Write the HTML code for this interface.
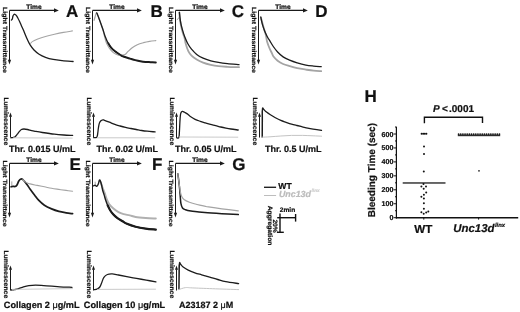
<!DOCTYPE html>
<html><head><meta charset="utf-8"><style>
html,body{margin:0;padding:0;background:#fff;width:520px;height:312px;overflow:hidden}
svg{display:block;font-family:"Liberation Sans",sans-serif;will-change:transform;text-rendering:geometricPrecision}
</style></head><body>
<svg width="520" height="312" viewBox="0 0 520 312">
<rect width="520" height="312" fill="#fff"/>
<line x1="9.50" y1="10.40" x2="54.50" y2="10.40" stroke="#1a1a1a" stroke-width="1.10"/>
<path d="M58.80 10.40 L54.00 8.30 L54.00 12.50 Z" fill="#1a1a1a"/>
<line x1="9.50" y1="10.50" x2="9.50" y2="60.30" stroke="#1a1a1a" stroke-width="1.00"/>
<path d="M9.50 64.40 L7.90 59.80 L11.10 59.80 Z" fill="#1a1a1a"/>
<text x="26.30" y="8.90" font-size="6.60" font-weight="bold" text-anchor="start" fill="#111" stroke="#111" stroke-width="0.22"  >Time</text>
<text x="65.90" y="16.70" font-size="17.00" font-weight="bold" text-anchor="start" fill="#111" stroke="#111" stroke-width="0.22"  >A</text>
<text transform="translate(3.40 7.00) rotate(90) scale(1.000 0.880)" x="0" y="0" font-size="6.90" font-weight="bold" fill="#111" stroke="#111" stroke-width="0.22" textLength="66.00" lengthAdjust="spacingAndGlyphs">Light Transmittance</text>
<line x1="10.50" y1="137.50" x2="10.50" y2="116.30" stroke="#1a1a1a" stroke-width="1.00"/>
<path d="M10.50 112.60 L9.00 116.80 L12.00 116.80 Z" fill="#1a1a1a"/>
<text transform="translate(3.50 97.40) rotate(90) scale(1.000 0.950)" x="0" y="0" font-size="6.90" font-weight="bold" fill="#111" stroke="#111" stroke-width="0.22" >Luminescence</text>
<line x1="92.50" y1="10.40" x2="137.50" y2="10.40" stroke="#1a1a1a" stroke-width="1.10"/>
<path d="M141.80 10.40 L137.00 8.30 L137.00 12.50 Z" fill="#1a1a1a"/>
<line x1="92.50" y1="10.50" x2="92.50" y2="60.30" stroke="#1a1a1a" stroke-width="1.00"/>
<path d="M92.50 64.40 L90.90 59.80 L94.10 59.80 Z" fill="#1a1a1a"/>
<text x="109.30" y="8.90" font-size="6.60" font-weight="bold" text-anchor="start" fill="#111" stroke="#111" stroke-width="0.22"  >Time</text>
<text x="150.50" y="16.70" font-size="17.00" font-weight="bold" text-anchor="start" fill="#111" stroke="#111" stroke-width="0.22"  >B</text>
<text transform="translate(86.40 7.00) rotate(90) scale(1.000 0.880)" x="0" y="0" font-size="6.90" font-weight="bold" fill="#111" stroke="#111" stroke-width="0.22" textLength="66.00" lengthAdjust="spacingAndGlyphs">Light Transmittance</text>
<line x1="93.50" y1="137.50" x2="93.50" y2="116.30" stroke="#1a1a1a" stroke-width="1.00"/>
<path d="M93.50 112.60 L92.00 116.80 L95.00 116.80 Z" fill="#1a1a1a"/>
<text transform="translate(86.50 97.40) rotate(90) scale(1.000 0.950)" x="0" y="0" font-size="6.90" font-weight="bold" fill="#111" stroke="#111" stroke-width="0.22" >Luminescence</text>
<line x1="175.50" y1="10.40" x2="220.50" y2="10.40" stroke="#1a1a1a" stroke-width="1.10"/>
<path d="M224.80 10.40 L220.00 8.30 L220.00 12.50 Z" fill="#1a1a1a"/>
<line x1="175.50" y1="10.50" x2="175.50" y2="60.30" stroke="#1a1a1a" stroke-width="1.00"/>
<path d="M175.50 64.40 L173.90 59.80 L177.10 59.80 Z" fill="#1a1a1a"/>
<text x="192.30" y="8.90" font-size="6.60" font-weight="bold" text-anchor="start" fill="#111" stroke="#111" stroke-width="0.22"  >Time</text>
<text x="231.80" y="16.70" font-size="17.00" font-weight="bold" text-anchor="start" fill="#111" stroke="#111" stroke-width="0.22"  >C</text>
<text transform="translate(169.40 7.00) rotate(90) scale(1.000 0.880)" x="0" y="0" font-size="6.90" font-weight="bold" fill="#111" stroke="#111" stroke-width="0.22" textLength="66.00" lengthAdjust="spacingAndGlyphs">Light Transmittance</text>
<line x1="176.50" y1="137.50" x2="176.50" y2="116.30" stroke="#1a1a1a" stroke-width="1.00"/>
<path d="M176.50 112.60 L175.00 116.80 L178.00 116.80 Z" fill="#1a1a1a"/>
<text transform="translate(169.50 97.40) rotate(90) scale(1.000 0.950)" x="0" y="0" font-size="6.90" font-weight="bold" fill="#111" stroke="#111" stroke-width="0.22" >Luminescence</text>
<line x1="258.50" y1="10.40" x2="303.50" y2="10.40" stroke="#1a1a1a" stroke-width="1.10"/>
<path d="M307.80 10.40 L303.00 8.30 L303.00 12.50 Z" fill="#1a1a1a"/>
<line x1="258.50" y1="10.50" x2="258.50" y2="60.30" stroke="#1a1a1a" stroke-width="1.00"/>
<path d="M258.50 64.40 L256.90 59.80 L260.10 59.80 Z" fill="#1a1a1a"/>
<text x="275.30" y="8.90" font-size="6.60" font-weight="bold" text-anchor="start" fill="#111" stroke="#111" stroke-width="0.22"  >Time</text>
<text x="315.20" y="16.70" font-size="17.00" font-weight="bold" text-anchor="start" fill="#111" stroke="#111" stroke-width="0.22"  >D</text>
<text transform="translate(252.40 7.00) rotate(90) scale(1.000 0.880)" x="0" y="0" font-size="6.90" font-weight="bold" fill="#111" stroke="#111" stroke-width="0.22" textLength="66.00" lengthAdjust="spacingAndGlyphs">Light Transmittance</text>
<line x1="259.50" y1="137.50" x2="259.50" y2="116.30" stroke="#1a1a1a" stroke-width="1.00"/>
<path d="M259.50 112.60 L258.00 116.80 L261.00 116.80 Z" fill="#1a1a1a"/>
<text transform="translate(252.50 97.40) rotate(90) scale(1.000 0.950)" x="0" y="0" font-size="6.90" font-weight="bold" fill="#111" stroke="#111" stroke-width="0.22" >Luminescence</text>
<line x1="9.50" y1="163.40" x2="54.50" y2="163.40" stroke="#1a1a1a" stroke-width="1.10"/>
<path d="M58.80 163.40 L54.00 161.30 L54.00 165.50 Z" fill="#1a1a1a"/>
<line x1="9.50" y1="163.50" x2="9.50" y2="213.30" stroke="#1a1a1a" stroke-width="1.00"/>
<path d="M9.50 217.40 L7.90 212.80 L11.10 212.80 Z" fill="#1a1a1a"/>
<text x="26.30" y="161.90" font-size="6.60" font-weight="bold" text-anchor="start" fill="#111" stroke="#111" stroke-width="0.22"  >Time</text>
<text x="69.60" y="170.00" font-size="17.00" font-weight="bold" text-anchor="start" fill="#111" stroke="#111" stroke-width="0.22"  >E</text>
<text transform="translate(3.40 160.60) rotate(90) scale(1.000 0.880)" x="0" y="0" font-size="6.90" font-weight="bold" fill="#111" stroke="#111" stroke-width="0.22" textLength="66.00" lengthAdjust="spacingAndGlyphs">Light Transmittance</text>
<line x1="10.50" y1="290.50" x2="10.50" y2="269.30" stroke="#1a1a1a" stroke-width="1.00"/>
<path d="M10.50 265.60 L9.00 269.80 L12.00 269.80 Z" fill="#1a1a1a"/>
<text transform="translate(3.50 250.40) rotate(90) scale(1.000 0.950)" x="0" y="0" font-size="6.90" font-weight="bold" fill="#111" stroke="#111" stroke-width="0.22" >Luminescence</text>
<line x1="92.50" y1="163.40" x2="137.50" y2="163.40" stroke="#1a1a1a" stroke-width="1.10"/>
<path d="M141.80 163.40 L137.00 161.30 L137.00 165.50 Z" fill="#1a1a1a"/>
<line x1="92.50" y1="163.50" x2="92.50" y2="213.30" stroke="#1a1a1a" stroke-width="1.00"/>
<path d="M92.50 217.40 L90.90 212.80 L94.10 212.80 Z" fill="#1a1a1a"/>
<text x="109.30" y="161.90" font-size="6.60" font-weight="bold" text-anchor="start" fill="#111" stroke="#111" stroke-width="0.22"  >Time</text>
<text x="152.00" y="170.00" font-size="17.00" font-weight="bold" text-anchor="start" fill="#111" stroke="#111" stroke-width="0.22"  >F</text>
<text transform="translate(86.40 160.60) rotate(90) scale(1.000 0.880)" x="0" y="0" font-size="6.90" font-weight="bold" fill="#111" stroke="#111" stroke-width="0.22" textLength="66.00" lengthAdjust="spacingAndGlyphs">Light Transmittance</text>
<line x1="93.50" y1="290.50" x2="93.50" y2="269.30" stroke="#1a1a1a" stroke-width="1.00"/>
<path d="M93.50 265.60 L92.00 269.80 L95.00 269.80 Z" fill="#1a1a1a"/>
<text transform="translate(86.50 250.40) rotate(90) scale(1.000 0.950)" x="0" y="0" font-size="6.90" font-weight="bold" fill="#111" stroke="#111" stroke-width="0.22" >Luminescence</text>
<line x1="175.50" y1="163.40" x2="220.50" y2="163.40" stroke="#1a1a1a" stroke-width="1.10"/>
<path d="M224.80 163.40 L220.00 161.30 L220.00 165.50 Z" fill="#1a1a1a"/>
<line x1="175.50" y1="163.50" x2="175.50" y2="213.30" stroke="#1a1a1a" stroke-width="1.00"/>
<path d="M175.50 217.40 L173.90 212.80 L177.10 212.80 Z" fill="#1a1a1a"/>
<text x="192.30" y="161.90" font-size="6.60" font-weight="bold" text-anchor="start" fill="#111" stroke="#111" stroke-width="0.22"  >Time</text>
<text x="232.30" y="170.00" font-size="17.00" font-weight="bold" text-anchor="start" fill="#111" stroke="#111" stroke-width="0.22"  >G</text>
<text transform="translate(169.40 160.60) rotate(90) scale(1.000 0.880)" x="0" y="0" font-size="6.90" font-weight="bold" fill="#111" stroke="#111" stroke-width="0.22" textLength="66.00" lengthAdjust="spacingAndGlyphs">Light Transmittance</text>
<line x1="176.50" y1="290.50" x2="176.50" y2="269.30" stroke="#1a1a1a" stroke-width="1.00"/>
<path d="M176.50 265.60 L175.00 269.80 L178.00 269.80 Z" fill="#1a1a1a"/>
<text transform="translate(169.50 250.40) rotate(90) scale(1.000 0.950)" x="0" y="0" font-size="6.90" font-weight="bold" fill="#111" stroke="#111" stroke-width="0.22" >Luminescence</text>
<path d="M11.40 20.10 C11.57 19.87 12.15 19.33 12.40 18.70 C12.65 18.07 12.67 16.98 12.90 16.30 C13.13 15.62 13.48 14.93 13.80 14.60 C14.12 14.27 14.39 14.18 14.80 14.30 C15.21 14.42 15.77 14.73 16.25 15.30 C16.73 15.87 17.14 16.67 17.70 17.70 C18.26 18.73 18.97 20.13 19.60 21.50 C20.23 22.87 20.85 24.45 21.50 25.90 C22.15 27.35 22.85 28.68 23.50 30.20 C24.15 31.72 24.72 33.37 25.40 35.00 C26.08 36.63 26.82 38.35 27.60 40.00 C28.38 41.65 29.03 43.23 30.10 44.90 C31.17 46.57 32.50 48.45 34.00 50.00 C35.50 51.55 37.18 52.98 39.10 54.20 C41.02 55.42 43.15 56.43 45.50 57.30 C47.85 58.17 50.42 58.85 53.20 59.40 C55.98 59.95 58.88 60.25 62.20 60.60 C65.52 60.95 71.28 61.35 73.10 61.50" fill="none" stroke="#1c1c1c" stroke-width="1.30" stroke-linejoin="round" stroke-linecap="round"/>
<path d="M30.60 43.40 C30.95 43.07 31.50 42.13 32.70 41.40 C33.90 40.67 35.67 39.82 37.80 39.00 C39.93 38.18 42.72 37.28 45.50 36.50 C48.28 35.72 51.50 34.98 54.50 34.30 C57.50 33.62 60.52 32.97 63.50 32.40 C66.48 31.83 70.92 31.15 72.40 30.90" fill="none" stroke="#a4a4a4" stroke-width="1.10" stroke-linejoin="round" stroke-linecap="round"/>
<path d="M11.00 137.80 C11.43 137.72 12.90 137.48 13.60 137.30 C14.30 137.12 14.58 137.22 15.20 136.70 C15.82 136.18 16.62 135.05 17.30 134.20 C17.98 133.35 18.62 132.38 19.30 131.60 C19.98 130.82 20.62 129.93 21.40 129.50 C22.18 129.07 22.98 129.00 24.00 129.00 C25.02 129.00 26.23 129.23 27.50 129.50 C28.77 129.77 30.23 130.28 31.60 130.60 C32.97 130.92 33.92 131.08 35.70 131.40 C37.48 131.72 39.18 132.03 42.30 132.50 C45.42 132.97 50.82 133.78 54.40 134.20 C57.98 134.62 60.77 134.80 63.80 135.00 C66.83 135.20 71.13 135.33 72.60 135.40" fill="none" stroke="#1c1c1c" stroke-width="1.30" stroke-linejoin="round" stroke-linecap="round"/>
<line x1="13.00" y1="137.80" x2="72.60" y2="138.10" stroke="#c4c4c4" stroke-width="0.90"/>
<path d="M108.20 43.30 C108.72 44.07 110.10 46.53 111.30 47.90 C112.50 49.27 113.87 50.30 115.40 51.50 C116.93 52.70 118.90 54.18 120.50 55.10 C122.10 56.02 123.40 56.47 125.00 57.05 C126.60 57.63 128.38 58.09 130.10 58.60 C131.82 59.11 133.58 59.67 135.30 60.10 C137.02 60.53 138.70 60.90 140.40 61.20 C142.10 61.50 143.80 61.73 145.50 61.90 C147.20 62.07 148.88 62.10 150.60 62.20 C152.32 62.30 154.93 62.45 155.80 62.50" fill="none" stroke="#1c1c1c" stroke-width="2.00" stroke-linejoin="round" stroke-linecap="round"/>
<path d="M94.10 20.30 C94.28 19.67 94.77 17.75 95.20 16.50 C95.63 15.25 96.07 12.47 96.70 12.80 C97.33 13.13 98.28 16.63 99.00 18.50 C99.72 20.37 100.32 22.08 101.00 24.00 C101.68 25.92 102.50 27.92 103.10 30.00 C103.70 32.08 104.08 34.45 104.60 36.50 C105.12 38.55 105.43 40.40 106.20 42.30 C106.97 44.20 108.02 46.18 109.20 47.90 C110.38 49.62 111.75 51.40 113.30 52.60 C114.85 53.80 117.05 54.68 118.50 55.10 C119.95 55.52 120.92 55.20 122.00 55.10 C123.08 55.00 123.98 55.12 125.00 54.50 C126.02 53.88 126.90 52.52 128.10 51.40 C129.30 50.28 130.67 48.92 132.20 47.80 C133.73 46.68 135.42 45.55 137.30 44.70 C139.18 43.85 141.45 43.25 143.50 42.70 C145.55 42.15 147.55 41.75 149.60 41.40 C151.65 41.05 154.77 40.73 155.80 40.60" fill="none" stroke="#a4a4a4" stroke-width="1.20" stroke-linejoin="round" stroke-linecap="round"/>
<path d="M96.80 12.90 C97.17 13.83 98.30 16.65 99.00 18.50 C99.70 20.35 100.32 22.08 101.00 24.00 C101.68 25.92 102.42 27.97 103.10 30.00 C103.78 32.03 104.25 33.98 105.10 36.20 C105.95 38.42 107.17 41.35 108.20 43.30 C109.23 45.25 110.10 46.53 111.30 47.90 C112.50 49.27 113.87 50.30 115.40 51.50 C116.93 52.70 118.90 54.18 120.50 55.10 C122.10 56.02 124.25 56.72 125.00 57.05" fill="none" stroke="#1c1c1c" stroke-width="1.30" stroke-linejoin="round" stroke-linecap="round"/>
<path d="M93.70 137.60 C94.17 137.58 95.88 137.85 96.50 137.50 C97.12 137.15 97.17 136.42 97.40 135.50 C97.63 134.58 97.73 133.25 97.90 132.00 C98.07 130.75 98.17 129.43 98.40 128.00 C98.63 126.57 98.88 124.60 99.30 123.40 C99.72 122.20 100.30 121.40 100.90 120.80 C101.50 120.20 102.38 119.92 102.90 119.80 C103.42 119.68 102.92 119.70 104.00 120.10 C105.08 120.50 107.60 121.48 109.40 122.20 C111.20 122.92 113.02 123.77 114.80 124.40 C116.58 125.03 118.32 125.50 120.10 126.00 C121.88 126.50 123.70 126.98 125.50 127.40 C127.30 127.82 129.10 128.15 130.90 128.50 C132.70 128.85 134.50 129.17 136.30 129.50 C138.10 129.83 139.90 130.22 141.70 130.50 C143.50 130.78 144.87 130.97 147.10 131.20 C149.33 131.43 153.77 131.78 155.10 131.90" fill="none" stroke="#1c1c1c" stroke-width="1.30" stroke-linejoin="round" stroke-linecap="round"/>
<line x1="97.00" y1="137.80" x2="155.20" y2="137.80" stroke="#c4c4c4" stroke-width="0.90"/>
<path d="M177.20 19.50 C177.33 19.42 177.70 19.33 178.00 19.00 C178.30 18.67 178.83 17.75 179.00 17.50" fill="none" stroke="#a4a4a4" stroke-width="1.00" stroke-linejoin="round" stroke-linecap="round"/>
<path d="M179.40 12.50 C179.47 13.47 179.52 16.05 179.80 18.30 C180.08 20.55 180.57 23.45 181.10 26.00 C181.63 28.55 182.43 31.65 183.00 33.60 C183.57 35.55 184.03 35.95 184.50 37.70 C184.97 39.45 185.17 41.85 185.80 44.10 C186.43 46.35 187.35 49.28 188.30 51.20 C189.25 53.12 190.10 54.22 191.50 55.60 C192.90 56.98 194.77 58.32 196.70 59.50 C198.63 60.68 200.75 61.80 203.10 62.70 C205.45 63.60 208.23 64.32 210.80 64.90 C213.37 65.48 215.73 65.88 218.50 66.20 C221.27 66.52 223.98 66.63 227.40 66.80 C230.82 66.97 237.07 67.13 239.00 67.20" fill="none" stroke="#a4a4a4" stroke-width="1.80" stroke-linejoin="round" stroke-linecap="round"/>
<path d="M179.40 12.50 C179.57 13.88 180.02 18.35 180.40 20.80 C180.78 23.25 181.17 25.07 181.70 27.20 C182.23 29.33 183.03 31.85 183.60 33.60 C184.17 35.35 184.42 36.05 185.10 37.70 C185.78 39.35 186.63 41.58 187.70 43.50 C188.77 45.42 190.00 47.38 191.50 49.20 C193.00 51.02 194.77 52.90 196.70 54.40 C198.63 55.90 200.75 57.13 203.10 58.20 C205.45 59.27 208.23 60.10 210.80 60.80 C213.37 61.50 215.73 61.93 218.50 62.40 C221.27 62.87 223.98 63.23 227.40 63.60 C230.82 63.97 237.07 64.43 239.00 64.60" fill="none" stroke="#1c1c1c" stroke-width="1.30" stroke-linejoin="round" stroke-linecap="round"/>
<path d="M176.60 137.70 C176.97 137.70 178.33 138.65 178.80 137.70 C179.27 136.75 179.22 134.62 179.40 132.00 C179.58 129.38 179.72 124.92 179.90 122.00 C180.08 119.08 180.23 116.20 180.50 114.50 C180.77 112.80 181.13 112.33 181.50 111.80 C181.87 111.27 182.20 111.22 182.70 111.30 C183.20 111.38 183.73 111.87 184.50 112.30 C185.27 112.73 186.38 113.25 187.30 113.90 C188.22 114.55 188.70 115.30 190.00 116.20 C191.30 117.10 193.38 118.45 195.10 119.30 C196.82 120.15 198.58 120.70 200.30 121.30 C202.02 121.90 203.70 122.38 205.40 122.90 C207.10 123.42 208.80 123.95 210.50 124.40 C212.20 124.85 213.88 125.17 215.60 125.60 C217.32 126.03 219.08 126.58 220.80 127.00 C222.52 127.42 224.20 127.77 225.90 128.10 C227.60 128.43 228.95 128.68 231.00 129.00 C233.05 129.32 237.00 129.83 238.20 130.00" fill="none" stroke="#1c1c1c" stroke-width="1.30" stroke-linejoin="round" stroke-linecap="round"/>
<line x1="179.00" y1="137.00" x2="238.20" y2="137.20" stroke="#c4c4c4" stroke-width="0.90"/>
<path d="M260.80 17.20 C260.97 17.83 261.40 19.53 261.80 21.00 C262.20 22.47 262.75 24.42 263.20 26.00 C263.65 27.58 264.10 29.17 264.50 30.50 C264.90 31.83 265.28 32.75 265.60 34.00 C265.92 35.25 266.13 36.67 266.40 38.00 C266.67 39.33 266.67 40.25 267.20 42.00 C267.73 43.75 268.80 46.62 269.60 48.50 C270.40 50.38 271.38 52.00 272.00 53.30 C272.62 54.60 272.37 55.07 273.30 56.30 C274.23 57.53 275.97 59.42 277.60 60.70 C279.23 61.98 281.10 63.10 283.10 64.00 C285.10 64.90 287.25 65.42 289.60 66.10 C291.95 66.78 294.48 67.52 297.20 68.10 C299.92 68.68 303.17 69.17 305.90 69.60 C308.63 70.03 311.05 70.43 313.60 70.70 C316.15 70.97 319.93 71.12 321.20 71.20" fill="none" stroke="#a4a4a4" stroke-width="1.80" stroke-linejoin="round" stroke-linecap="round"/>
<path d="M260.80 17.20 C261.07 18.40 261.87 22.40 262.40 24.40 C262.93 26.40 263.47 27.73 264.00 29.20 C264.53 30.67 264.93 31.73 265.60 33.20 C266.27 34.67 267.27 36.68 268.00 38.00 C268.73 39.32 269.12 39.68 270.00 41.10 C270.88 42.52 272.03 44.68 273.30 46.50 C274.57 48.32 275.97 50.27 277.60 52.00 C279.23 53.73 281.10 55.53 283.10 56.90 C285.10 58.27 287.25 59.20 289.60 60.20 C291.95 61.20 294.48 62.08 297.20 62.90 C299.92 63.72 303.17 64.57 305.90 65.10 C308.63 65.63 311.05 65.83 313.60 66.10 C316.15 66.37 319.93 66.60 321.20 66.70" fill="none" stroke="#1c1c1c" stroke-width="1.30" stroke-linejoin="round" stroke-linecap="round"/>
<line x1="261.90" y1="137.50" x2="261.90" y2="110.50" stroke="#a4a4a4" stroke-width="1.00"/>
<path d="M262.30 137.20 C262.32 134.33 262.37 124.77 262.40 120.00 C262.43 115.23 262.23 110.30 262.50 108.60 C262.77 106.90 263.33 109.22 264.00 109.80 C264.67 110.38 265.50 111.32 266.50 112.10 C267.50 112.88 268.52 113.57 270.00 114.50 C271.48 115.43 273.60 116.72 275.40 117.70 C277.20 118.68 279.02 119.63 280.80 120.40 C282.58 121.17 284.32 121.68 286.10 122.30 C287.88 122.92 289.70 123.57 291.50 124.10 C293.30 124.63 295.10 125.05 296.90 125.50 C298.70 125.95 300.50 126.37 302.30 126.80 C304.10 127.23 305.90 127.72 307.70 128.10 C309.50 128.48 310.80 128.72 313.10 129.10 C315.40 129.48 320.10 130.18 321.50 130.40" fill="none" stroke="#1c1c1c" stroke-width="1.30" stroke-linejoin="round" stroke-linecap="round"/>
<path d="M262.00 137.20 C263.33 137.13 266.87 137.00 270.00 136.80 C273.13 136.60 277.22 136.23 280.80 136.00 C284.38 135.77 287.92 135.50 291.50 135.40 C295.08 135.30 298.70 135.33 302.30 135.40 C305.90 135.47 309.90 135.67 313.10 135.80 C316.30 135.93 320.10 136.13 321.50 136.20" fill="none" stroke="#c4c4c4" stroke-width="1.00" stroke-linejoin="round" stroke-linecap="round"/>
<line x1="11.80" y1="181.40" x2="11.80" y2="186.80" stroke="#a4a4a4" stroke-width="1.00"/>
<path d="M11.10 186.80 C11.40 186.72 12.22 186.35 12.90 186.30 C13.58 186.25 14.52 186.72 15.20 186.50 C15.88 186.28 16.40 185.92 17.00 185.00 C17.60 184.08 18.13 182.00 18.80 181.00 C19.47 180.00 20.33 179.23 21.00 179.00 C21.67 178.77 22.13 179.12 22.80 179.60 C23.47 180.08 24.18 180.92 25.00 181.90 C25.82 182.88 26.83 184.28 27.70 185.50 C28.57 186.72 29.07 187.62 30.20 189.20 C31.33 190.78 33.10 193.17 34.50 195.00 C35.90 196.83 36.95 198.48 38.60 200.20 C40.25 201.92 42.23 203.85 44.40 205.30 C46.57 206.75 49.18 207.88 51.60 208.90 C54.02 209.92 56.48 210.75 58.90 211.40 C61.32 212.05 63.82 212.42 66.10 212.80 C68.38 213.18 71.52 213.55 72.60 213.70" fill="none" stroke="#1c1c1c" stroke-width="1.70" stroke-linejoin="round" stroke-linecap="round"/>
<path d="M22.80 179.60 C22.95 179.75 23.03 179.97 23.70 180.50 C24.37 181.03 25.72 182.23 26.80 182.80 C27.88 183.37 28.85 183.53 30.20 183.90 C31.55 184.27 33.73 184.75 34.90 185.00 C36.07 185.25 35.62 185.10 37.20 185.40 C38.78 185.70 42.00 186.32 44.40 186.80 C46.80 187.28 49.18 187.87 51.60 188.30 C54.02 188.73 56.48 189.05 58.90 189.40 C61.32 189.75 63.82 190.10 66.10 190.40 C68.38 190.70 71.52 191.07 72.60 191.20" fill="none" stroke="#a4a4a4" stroke-width="1.10" stroke-linejoin="round" stroke-linecap="round"/>
<path d="M11.20 290.00 C11.75 289.93 13.35 289.78 14.50 289.60 C15.65 289.42 16.60 289.35 18.10 288.90 C19.60 288.45 21.70 287.45 23.50 286.90 C25.30 286.35 26.88 285.90 28.90 285.60 C30.92 285.30 33.13 285.10 35.60 285.10 C38.07 285.10 41.00 285.42 43.70 285.60 C46.40 285.78 49.12 285.98 51.80 286.20 C54.48 286.42 56.43 286.72 59.80 286.90 C63.17 287.08 69.97 287.23 72.00 287.30" fill="none" stroke="#1c1c1c" stroke-width="1.30" stroke-linejoin="round" stroke-linecap="round"/>
<line x1="12.00" y1="289.40" x2="72.90" y2="288.60" stroke="#c4c4c4" stroke-width="0.90"/>
<line x1="95.10" y1="181.70" x2="95.30" y2="184.50" stroke="#a4a4a4" stroke-width="1.00"/>
<path d="M100.80 182.30 C101.05 183.08 101.65 185.20 102.30 187.00 C102.95 188.80 103.97 191.07 104.70 193.10 C105.43 195.13 105.93 197.32 106.70 199.20 C107.47 201.08 108.18 202.85 109.30 204.40 C110.42 205.95 111.87 207.22 113.40 208.50 C114.93 209.78 116.80 211.17 118.50 212.10 C120.20 213.03 121.72 213.55 123.60 214.10 C125.48 214.65 127.80 214.92 129.80 215.40 C131.80 215.88 132.95 216.57 135.60 217.00 C138.25 217.43 142.33 217.75 145.70 218.00 C149.07 218.25 154.12 218.42 155.80 218.50" fill="none" stroke="#b0b0b0" stroke-width="2.00" stroke-linejoin="round" stroke-linecap="round"/>
<path d="M93.60 185.80 C93.85 185.72 94.58 185.20 95.10 185.30 C95.62 185.40 96.18 186.57 96.70 186.40 C97.22 186.23 97.78 185.25 98.20 184.30 C98.62 183.35 98.92 181.42 99.20 180.70 C99.48 179.98 99.63 179.73 99.90 180.00 C100.17 180.27 100.48 181.30 100.80 182.30 C101.12 183.30 101.50 184.72 101.80 186.00 C102.10 187.28 102.20 188.48 102.60 190.00 C103.00 191.52 103.68 193.38 104.20 195.10 C104.72 196.82 105.12 198.58 105.70 200.30 C106.28 202.02 106.93 203.70 107.70 205.40 C108.47 207.10 109.35 208.97 110.30 210.50 C111.25 212.03 112.20 213.32 113.40 214.60 C114.60 215.88 115.97 217.08 117.50 218.20 C119.03 219.32 121.02 220.37 122.60 221.30 C124.18 222.23 124.83 222.90 127.00 223.80 C129.17 224.70 132.48 225.90 135.60 226.70 C138.72 227.50 142.33 228.12 145.70 228.60 C149.07 229.08 154.12 229.43 155.80 229.60" fill="none" stroke="#1c1c1c" stroke-width="1.40" stroke-linejoin="round" stroke-linecap="round"/>
<path d="M107.70 205.40 C108.13 206.25 109.35 208.97 110.30 210.50 C111.25 212.03 112.20 213.32 113.40 214.60 C114.60 215.88 115.97 217.08 117.50 218.20 C119.03 219.32 121.02 220.37 122.60 221.30 C124.18 222.23 124.83 222.90 127.00 223.80 C129.17 224.70 132.48 225.90 135.60 226.70 C138.72 227.50 142.33 228.12 145.70 228.60 C149.07 229.08 154.12 229.43 155.80 229.60" fill="none" stroke="#1c1c1c" stroke-width="2.20" stroke-linejoin="round" stroke-linecap="round"/>
<path d="M94.30 289.70 C94.75 289.60 96.08 289.55 97.00 289.10 C97.92 288.65 98.98 288.15 99.80 287.00 C100.62 285.85 101.22 283.82 101.90 282.20 C102.58 280.58 102.98 278.58 103.90 277.30 C104.82 276.02 106.02 275.07 107.40 274.50 C108.78 273.93 110.35 273.82 112.20 273.90 C114.05 273.98 116.07 274.55 118.50 275.00 C120.93 275.45 123.80 276.03 126.80 276.60 C129.80 277.17 133.27 277.82 136.50 278.40 C139.73 278.98 142.97 279.52 146.20 280.10 C149.43 280.68 154.28 281.60 155.90 281.90" fill="none" stroke="#1c1c1c" stroke-width="1.30" stroke-linejoin="round" stroke-linecap="round"/>
<line x1="97.00" y1="289.40" x2="155.90" y2="289.20" stroke="#c4c4c4" stroke-width="0.90"/>
<path d="M177.80 173.70 C177.88 174.28 178.03 175.07 178.30 177.20 C178.57 179.33 179.08 183.42 179.40 186.50 C179.72 189.58 179.95 192.88 180.20 195.70 C180.45 198.52 180.52 201.35 180.90 203.40 C181.28 205.45 181.73 206.93 182.50 208.00 C183.27 209.07 184.10 209.28 185.50 209.80 C186.90 210.32 188.97 210.77 190.90 211.10 C192.83 211.43 194.78 211.55 197.10 211.80 C199.42 212.05 200.67 212.28 204.80 212.60 C208.93 212.92 216.32 213.37 221.90 213.70 C227.48 214.03 235.57 214.45 238.30 214.60" fill="none" stroke="#1c1c1c" stroke-width="1.50" stroke-linejoin="round" stroke-linecap="round"/>
<path d="M177.80 173.70 C177.93 174.75 178.30 177.87 178.60 180.00 C178.90 182.13 179.33 184.65 179.60 186.50 C179.87 188.35 179.85 189.43 180.20 191.10 C180.55 192.77 181.07 195.10 181.70 196.50 C182.33 197.90 182.72 198.55 184.00 199.50 C185.28 200.45 187.22 201.37 189.40 202.20 C191.58 203.03 194.53 203.83 197.10 204.50 C199.67 205.17 202.90 205.80 204.80 206.20 C206.70 206.60 205.65 206.47 208.50 206.90 C211.35 207.33 216.93 208.15 221.90 208.80 C226.87 209.45 235.57 210.47 238.30 210.80" fill="none" stroke="#a4a4a4" stroke-width="1.20" stroke-linejoin="round" stroke-linecap="round"/>
<line x1="178.60" y1="289.50" x2="178.60" y2="264.50" stroke="#a4a4a4" stroke-width="1.00"/>
<path d="M179.00 289.00 C179.03 286.67 179.12 279.32 179.20 275.00 C179.28 270.68 179.27 264.90 179.50 263.10 C179.73 261.30 180.05 263.60 180.60 264.20 C181.15 264.80 181.53 265.72 182.80 266.70 C184.07 267.68 186.18 269.08 188.20 270.10 C190.22 271.12 192.67 272.02 194.90 272.80 C197.13 273.58 199.13 274.08 201.60 274.80 C204.07 275.52 207.00 276.32 209.70 277.10 C212.40 277.88 215.12 278.75 217.80 279.50 C220.48 280.25 222.33 280.92 225.80 281.60 C229.27 282.28 236.47 283.27 238.60 283.60" fill="none" stroke="#1c1c1c" stroke-width="1.30" stroke-linejoin="round" stroke-linecap="round"/>
<path d="M178.70 289.60 C179.83 289.27 183.25 287.88 185.50 287.60 C187.75 287.32 187.72 287.72 192.20 287.90 C196.68 288.08 204.67 288.42 212.40 288.70 C220.13 288.98 234.23 289.45 238.60 289.60" fill="none" stroke="#c4c4c4" stroke-width="1.00" stroke-linejoin="round" stroke-linecap="round"/>
<text x="8.90" y="152.20" font-size="9.00" font-weight="bold" text-anchor="start" fill="#111" stroke="#111" stroke-width="0.22"  >Thr. 0.015 U/mL</text>
<text x="96.60" y="152.20" font-size="9.00" font-weight="bold" text-anchor="start" fill="#111" stroke="#111" stroke-width="0.22"  >Thr. 0.02 U/mL</text>
<text x="174.90" y="152.20" font-size="9.00" font-weight="bold" text-anchor="start" fill="#111" stroke="#111" stroke-width="0.22"  >Thr. 0.05 U/mL</text>
<text x="264.90" y="152.20" font-size="9.00" font-weight="bold" text-anchor="start" fill="#111" stroke="#111" stroke-width="0.22"  >Thr. 0.5 U/mL</text>
<text x="3.80" y="307.80" font-size="9.15" font-weight="bold" text-anchor="start" fill="#111" stroke="#111" stroke-width="0.22"  >Collagen 2 <tspan font-weight="normal">μ</tspan>g/mL</text>
<text x="83.80" y="307.80" font-size="9.20" font-weight="bold" text-anchor="start" fill="#111" stroke="#111" stroke-width="0.22"  >Collagen 10 <tspan font-weight="normal">μ</tspan>g/mL</text>
<text x="178.90" y="307.80" font-size="9.00" font-weight="bold" text-anchor="start" fill="#111" stroke="#111" stroke-width="0.22"  >A23187 2 <tspan font-weight="normal">μ</tspan>M</text>
<line x1="264.00" y1="187.30" x2="276.10" y2="187.30" stroke="#222" stroke-width="1.40"/>
<text x="278.30" y="189.10" font-size="8.60" font-weight="bold" text-anchor="start" fill="#111" stroke="#111" stroke-width="0.22"  >WT</text>
<line x1="264.00" y1="195.50" x2="276.10" y2="195.50" stroke="#bdbdbd" stroke-width="1.00"/>
<text x="278.90" y="197.30" font-size="8.90" font-weight="bold" text-anchor="start" fill="#bcbcbc" stroke="#bcbcbc" stroke-width="0.22" font-style="italic" >Unc13d</text>
<text x="311.60" y="192.20" font-size="4.60" font-weight="bold" text-anchor="start" fill="#cfcfcf" stroke="#cfcfcf" stroke-width="0.22" font-style="italic" >linx</text>
<text x="279.80" y="212.00" font-size="6.60" font-weight="bold" text-anchor="start" fill="#111" stroke="#111" stroke-width="0.22"  >2min</text>
<line x1="277.20" y1="217.70" x2="295.90" y2="217.70" stroke="#111" stroke-width="1.40"/>
<line x1="295.60" y1="214.00" x2="295.60" y2="221.60" stroke="#111" stroke-width="1.40"/>
<line x1="280.00" y1="213.60" x2="280.00" y2="232.40" stroke="#111" stroke-width="1.40"/>
<line x1="276.90" y1="232.30" x2="283.80" y2="232.30" stroke="#111" stroke-width="1.40"/>
<text transform="translate(273.30 219.40) rotate(90) scale(1.000 0.950)" x="0" y="0" font-size="6.70" font-weight="bold" fill="#111" stroke="#111" stroke-width="0.22" >20%</text>
<text transform="translate(268.40 205.70) rotate(90) scale(1.000 0.950)" x="0" y="0" font-size="6.75" font-weight="bold" fill="#111" stroke="#111" stroke-width="0.22" >Aggregation</text>
<text x="364.60" y="101.80" font-size="17.00" font-weight="bold" text-anchor="start" fill="#111" stroke="#111" stroke-width="0.22"  >H</text>
<text x="433.00" y="111.90" font-size="10.00" font-weight="bold" text-anchor="start" fill="#111" stroke="#111" stroke-width="0.22"  ><tspan font-style="italic">P</tspan><tspan x="442.0">&lt;</tspan><tspan x="449.0">.0001</tspan></text>
<path d="M424.4 123.2 V117.3 H482.5 V123.0" fill="none" stroke="#111" stroke-width="1.4"/>
<line x1="396.40" y1="126.80" x2="396.40" y2="218.40" stroke="#111" stroke-width="1.20"/>
<line x1="395.80" y1="217.70" x2="518.20" y2="217.70" stroke="#111" stroke-width="1.50"/>
<line x1="393.60" y1="217.70" x2="396.40" y2="217.70" stroke="#111" stroke-width="1.00"/>
<text x="393.40" y="220.20" font-size="7.10" font-weight="bold" text-anchor="end" fill="#111" stroke="#111" stroke-width="0.22"  >0</text>
<line x1="395.00" y1="210.72" x2="396.40" y2="210.72" stroke="#111" stroke-width="1.00"/>
<line x1="393.60" y1="203.75" x2="396.40" y2="203.75" stroke="#111" stroke-width="1.00"/>
<text x="393.40" y="206.25" font-size="7.10" font-weight="bold" text-anchor="end" fill="#111" stroke="#111" stroke-width="0.22"  >100</text>
<line x1="395.00" y1="196.77" x2="396.40" y2="196.77" stroke="#111" stroke-width="1.00"/>
<line x1="393.60" y1="189.80" x2="396.40" y2="189.80" stroke="#111" stroke-width="1.00"/>
<text x="393.40" y="192.30" font-size="7.10" font-weight="bold" text-anchor="end" fill="#111" stroke="#111" stroke-width="0.22"  >200</text>
<line x1="395.00" y1="182.82" x2="396.40" y2="182.82" stroke="#111" stroke-width="1.00"/>
<line x1="393.60" y1="175.85" x2="396.40" y2="175.85" stroke="#111" stroke-width="1.00"/>
<text x="393.40" y="178.35" font-size="7.10" font-weight="bold" text-anchor="end" fill="#111" stroke="#111" stroke-width="0.22"  >300</text>
<line x1="395.00" y1="168.88" x2="396.40" y2="168.88" stroke="#111" stroke-width="1.00"/>
<line x1="393.60" y1="161.90" x2="396.40" y2="161.90" stroke="#111" stroke-width="1.00"/>
<text x="393.40" y="164.40" font-size="7.10" font-weight="bold" text-anchor="end" fill="#111" stroke="#111" stroke-width="0.22"  >400</text>
<line x1="395.00" y1="154.92" x2="396.40" y2="154.92" stroke="#111" stroke-width="1.00"/>
<line x1="393.60" y1="147.95" x2="396.40" y2="147.95" stroke="#111" stroke-width="1.00"/>
<text x="393.40" y="150.45" font-size="7.10" font-weight="bold" text-anchor="end" fill="#111" stroke="#111" stroke-width="0.22"  >500</text>
<line x1="395.00" y1="140.97" x2="396.40" y2="140.97" stroke="#111" stroke-width="1.00"/>
<line x1="393.60" y1="134.00" x2="396.40" y2="134.00" stroke="#111" stroke-width="1.00"/>
<text x="393.40" y="136.50" font-size="7.10" font-weight="bold" text-anchor="end" fill="#111" stroke="#111" stroke-width="0.22"  >600</text>
<line x1="395.00" y1="127.02" x2="396.40" y2="127.02" stroke="#111" stroke-width="1.00"/>
<line x1="423.80" y1="217.70" x2="423.80" y2="219.60" stroke="#111" stroke-width="1.00"/>
<line x1="478.60" y1="217.70" x2="478.60" y2="219.60" stroke="#111" stroke-width="1.00"/>
<text transform="translate(375.20 217.30) rotate(-90) scale(1.000 1.000)" x="0" y="0" font-size="10.00" font-weight="bold" fill="#111" stroke="#111" stroke-width="0.22" >Bleeding Time (sec)</text>
<text x="414.20" y="232.70" font-size="11.60" font-weight="bold" text-anchor="start" fill="#111" stroke="#111" stroke-width="0.22"  >WT</text>
<text x="453.30" y="231.80" font-size="11.40" font-weight="bold" text-anchor="start" fill="#111" stroke="#111" stroke-width="0.22" font-style="italic" >Unc13d</text>
<text x="495.00" y="226.60" font-size="5.80" font-weight="bold" text-anchor="start" fill="#111" stroke="#111" stroke-width="0.22" font-style="italic" >linx</text>
<rect x="402.7" y="182.3" width="42.8" height="1.35" fill="#222"/>
<circle cx="421.60" cy="133.80" r="1.0" fill="#111"/>
<circle cx="423.20" cy="133.80" r="1.0" fill="#111"/>
<circle cx="424.80" cy="133.80" r="1.0" fill="#111"/>
<circle cx="426.40" cy="133.80" r="1.0" fill="#111"/>
<circle cx="424.00" cy="146.40" r="1.0" fill="#111"/>
<circle cx="424.00" cy="154.00" r="1.0" fill="#111"/>
<circle cx="423.80" cy="171.50" r="1.0" fill="#111"/>
<circle cx="423.50" cy="183.90" r="1.0" fill="#111"/>
<circle cx="421.40" cy="186.50" r="1.0" fill="#111"/>
<circle cx="426.00" cy="186.60" r="1.0" fill="#111"/>
<circle cx="423.70" cy="188.80" r="1.0" fill="#111"/>
<circle cx="426.20" cy="192.60" r="1.0" fill="#111"/>
<circle cx="423.90" cy="194.80" r="1.0" fill="#111"/>
<circle cx="421.40" cy="196.80" r="1.0" fill="#111"/>
<circle cx="423.90" cy="198.60" r="1.0" fill="#111"/>
<circle cx="423.90" cy="203.30" r="1.0" fill="#111"/>
<circle cx="423.90" cy="208.70" r="1.0" fill="#111"/>
<circle cx="421.40" cy="212.30" r="1.0" fill="#111"/>
<circle cx="423.70" cy="213.80" r="1.0" fill="#111"/>
<circle cx="426.20" cy="212.50" r="1.0" fill="#111"/>
<circle cx="428.30" cy="211.40" r="1.0" fill="#111"/>
<rect x="457.8" y="134.5" width="42.4" height="1.7" fill="#2a2a2a"/>
<circle cx="458.60" cy="134.1" r="0.85" fill="#111"/>
<circle cx="460.75" cy="134.1" r="0.85" fill="#111"/>
<circle cx="462.90" cy="134.1" r="0.85" fill="#111"/>
<circle cx="465.05" cy="134.1" r="0.85" fill="#111"/>
<circle cx="467.20" cy="134.1" r="0.85" fill="#111"/>
<circle cx="469.35" cy="134.1" r="0.85" fill="#111"/>
<circle cx="471.50" cy="134.1" r="0.85" fill="#111"/>
<circle cx="473.65" cy="134.1" r="0.85" fill="#111"/>
<circle cx="475.80" cy="134.1" r="0.85" fill="#111"/>
<circle cx="477.95" cy="134.1" r="0.85" fill="#111"/>
<circle cx="480.10" cy="134.1" r="0.85" fill="#111"/>
<circle cx="482.25" cy="134.1" r="0.85" fill="#111"/>
<circle cx="484.40" cy="134.1" r="0.85" fill="#111"/>
<circle cx="486.55" cy="134.1" r="0.85" fill="#111"/>
<circle cx="488.70" cy="134.1" r="0.85" fill="#111"/>
<circle cx="490.85" cy="134.1" r="0.85" fill="#111"/>
<circle cx="493.00" cy="134.1" r="0.85" fill="#111"/>
<circle cx="495.15" cy="134.1" r="0.85" fill="#111"/>
<circle cx="497.30" cy="134.1" r="0.85" fill="#111"/>
<circle cx="499.45" cy="134.1" r="0.85" fill="#111"/>
<circle cx="479.0" cy="170.8" r="0.85" fill="#1a1a1a"/>
</svg>
</body></html>
